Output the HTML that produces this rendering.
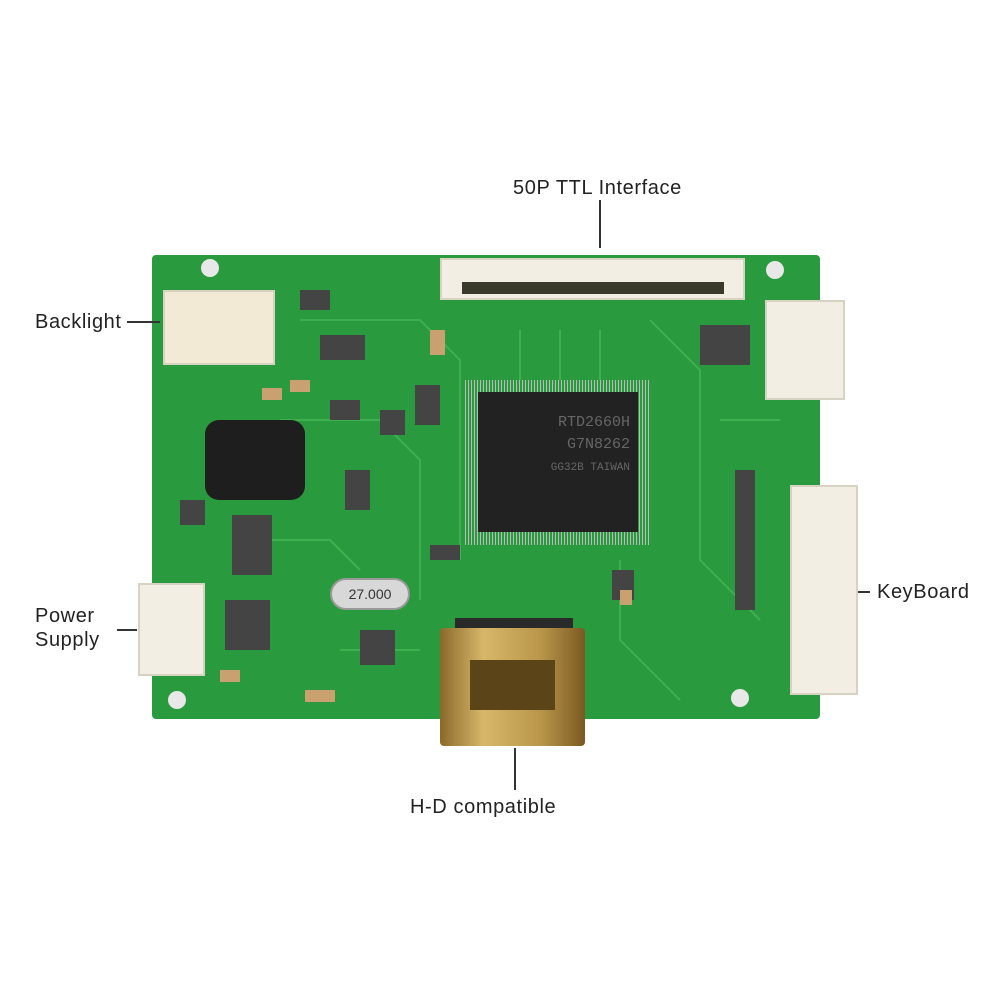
<!DOCTYPE html>
<html><head><meta charset="utf-8"><style>
html,body{margin:0;padding:0;background:#fff;}
body{width:1000px;height:1000px;position:relative;overflow:hidden;font-family:"Liberation Sans",sans-serif;}
.a{position:absolute;}
.lbl{position:absolute;font-size:20px;letter-spacing:0.6px;color:#222;line-height:24px;}
.wc{background:#f2eee4;border:2px solid #d8d2c2;box-sizing:border-box;}
</style></head><body>
<div class="a" style="left:152px;top:255px;width:668px;height:464px;background:#2a9a3e;border-radius:4px;"></div>
<svg class="a" style="left:0;top:0" width="1000" height="1000">
<g stroke="#4cbf5c" stroke-width="2" fill="none" opacity="0.6">
<path d="M300 320 L420 320 L460 360 L460 560"/><path d="M280 420 L380 420 L420 460 L420 600"/>
<path d="M650 320 L700 370 L700 560 L760 620"/><path d="M250 540 L330 540 L360 570"/>
<path d="M620 560 L620 640 L680 700"/><path d="M340 650 L420 650"/><path d="M520 330 L520 380"/>
<path d="M560 330 L560 380"/><path d="M600 330 L600 380"/><path d="M720 420 L780 420"/>
</g>
<g fill="#444">
<rect x="320" y="335" width="45" height="25"/><rect x="330" y="400" width="30" height="20"/>
<rect x="415" y="385" width="25" height="40"/><rect x="345" y="470" width="25" height="40"/>
<rect x="232" y="515" width="40" height="60"/><rect x="225" y="600" width="45" height="50"/>
<rect x="360" y="630" width="35" height="35"/><rect x="430" y="545" width="30" height="15"/>
<rect x="735" y="470" width="20" height="140"/><rect x="700" y="325" width="50" height="40"/>
<rect x="612" y="570" width="22" height="30"/><rect x="380" y="410" width="25" height="25"/>
<rect x="180" y="500" width="25" height="25"/><rect x="300" y="290" width="30" height="20"/>
</g>
<g fill="#c9a070">
<rect x="430" y="330" width="15" height="25"/><rect x="290" y="380" width="20" height="12"/>
<rect x="220" y="670" width="20" height="12"/><rect x="305" y="690" width="30" height="12"/>
<rect x="620" y="590" width="12" height="15"/><rect x="262" y="388" width="20" height="12"/>
</g>
<circle cx="210" cy="268" r="9" fill="#e8e8e8"/><circle cx="775" cy="270" r="9" fill="#e8e8e8"/>
<circle cx="177" cy="700" r="9" fill="#e8e8e8"/><circle cx="740" cy="698" r="9" fill="#e8e8e8"/>
<line x1="600" y1="200" x2="600" y2="248" stroke="#333" stroke-width="2"/>
<line x1="127" y1="322" x2="160" y2="322" stroke="#333" stroke-width="2"/>
<line x1="117" y1="630" x2="137" y2="630" stroke="#333" stroke-width="2"/>
<line x1="848" y1="592" x2="870" y2="592" stroke="#333" stroke-width="2"/>
<line x1="515" y1="748" x2="515" y2="790" stroke="#333" stroke-width="2"/>
</svg>
<div class="a wc" style="left:163px;top:290px;width:112px;height:75px;background:#f3ead6;"></div>
<div class="a wc" style="left:440px;top:258px;width:305px;height:42px;"></div>
<div class="a" style="left:462px;top:282px;width:262px;height:12px;background:#3a3a2a;"></div>
<div class="a" style="left:465px;top:380px;width:185px;height:165px;background:repeating-linear-gradient(90deg,#bbb 0 1px,#2a9a3e 1px 3px);"></div>
<div class="a" style="left:478px;top:392px;width:160px;height:140px;background:#222;color:#666;font-family:'Liberation Mono',monospace;font-size:15px;text-align:right;padding:20px 8px 0 0;box-sizing:border-box;line-height:22px;">RTD2660H<br>G7N8262<br><span style="font-size:11px">GG32B TAIWAN</span></div>
<div class="a wc" style="left:765px;top:300px;width:80px;height:100px;"></div>
<div class="a wc" style="left:790px;top:485px;width:68px;height:210px;"></div>
<div class="a wc" style="left:138px;top:583px;width:67px;height:93px;"></div>
<div class="a" style="left:205px;top:420px;width:100px;height:80px;background:#1e1e1e;border-radius:14px;"></div>
<div class="a" style="left:330px;top:578px;width:80px;height:32px;background:#d8d8d8;border-radius:16px;border:2px solid #999;box-sizing:border-box;font-size:14px;text-align:center;line-height:28px;color:#333;">27.000</div>
<div class="a" style="left:455px;top:618px;width:118px;height:12px;background:#2a2a2a;"></div>
<div class="a" style="left:440px;top:628px;width:145px;height:118px;background:linear-gradient(90deg,#8a6a2a,#d7b76a 30%,#b8954a 70%,#7a5a22);border-radius:4px;"></div>
<div class="a" style="left:470px;top:660px;width:85px;height:50px;background:#5a4418;"></div>
<div class="lbl" style="left:513px;top:176px;">50P TTL Interface</div>
<div class="lbl" style="left:35px;top:310px;">Backlight</div>
<div class="lbl" style="left:35px;top:604px;">Power<br>Supply</div>
<div class="lbl" style="left:877px;top:580px;">KeyBoard</div>
<div class="lbl" style="left:410px;top:795px;">H-D compatible</div>
</body></html>
